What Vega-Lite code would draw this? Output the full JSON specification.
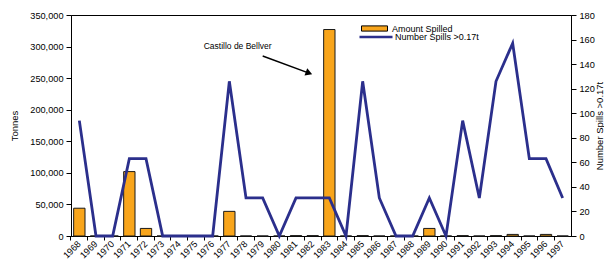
{
  "$schema": "https://vega.github.io/schema/vega-lite/v6.json",
  "width": 500,
  "height": 221,
  "padding": {"left": 9, "top": 11, "right": 0, "bottom": 0},
  "background": "white",
  "config": {
    "font": "Liberation Sans",
    "view": {"stroke": "#000", "strokeWidth": 1},
    "axis": {"labelFont": "Liberation Sans", "titleFont": "Liberation Sans", "labelFontSize": 9.2, "titleFontSize": 9.5, "titleFontWeight": "normal", "labelColor": "#000", "titleColor": "#000", "domainColor": "#000", "tickColor": "#000", "grid": false, "tickSize": 5, "labelPadding": 3},
    "legend": {"labelFont": "Liberation Sans", "labelFontSize": 9, "labelColor": "#000"}
  },
  "data": {
    "values": [
      {"year": "1968", "tonnes": 44000, "spills": 94},
      {"year": "1969", "tonnes": 0, "spills": 0},
      {"year": "1970", "tonnes": 0, "spills": 0},
      {"year": "1971", "tonnes": 102000, "spills": 63},
      {"year": "1972", "tonnes": 12000, "spills": 63},
      {"year": "1973", "tonnes": 0, "spills": 0},
      {"year": "1974", "tonnes": 0, "spills": 0},
      {"year": "1975", "tonnes": 0, "spills": 0},
      {"year": "1976", "tonnes": 0, "spills": 0},
      {"year": "1977", "tonnes": 39000, "spills": 126},
      {"year": "1978", "tonnes": 0, "spills": 31},
      {"year": "1979", "tonnes": 0, "spills": 31},
      {"year": "1980", "tonnes": 0, "spills": 0},
      {"year": "1981", "tonnes": 600, "spills": 31},
      {"year": "1982", "tonnes": 600, "spills": 31},
      {"year": "1983", "tonnes": 327000, "spills": 31},
      {"year": "1984", "tonnes": 0, "spills": 0},
      {"year": "1985", "tonnes": 600, "spills": 126},
      {"year": "1986", "tonnes": 0, "spills": 31},
      {"year": "1987", "tonnes": 0, "spills": 0},
      {"year": "1988", "tonnes": 0, "spills": 0},
      {"year": "1989", "tonnes": 12000, "spills": 31},
      {"year": "1990", "tonnes": 0, "spills": 0},
      {"year": "1991", "tonnes": 600, "spills": 94},
      {"year": "1992", "tonnes": 0, "spills": 31},
      {"year": "1993", "tonnes": 600, "spills": 126},
      {"year": "1994", "tonnes": 2500, "spills": 157},
      {"year": "1995", "tonnes": 0, "spills": 63},
      {"year": "1996", "tonnes": 2500, "spills": 63},
      {"year": "1997", "tonnes": 0, "spills": 31}
    ]
  },
  "layer": [
    {
      "mark": {"type": "bar", "width": {"band": 0.68}, "stroke": "#1a1a1a", "strokeWidth": 1},
      "encoding": {
        "x": {"field": "year", "type": "nominal", "sort": null, "scale": {"type": "band", "paddingInner": 0, "paddingOuter": 0},
              "axis": {"title": null, "bandPosition": 0, "labelAngle": -45, "labelAlign": "right", "labelBaseline": "middle", "tickSize": 4, "labelPadding": 2}},
        "y": {"field": "tonnes", "type": "quantitative", "scale": {"domain": [0, 350000], "nice": false},
              "axis": {"title": "Tonnes", "values": [0, 50000, 100000, 150000, 200000, 250000, 300000, 350000], "format": ",d", "titlePadding": 10}},
        "fill": {"datum": "Amount Spilled", "type": "nominal", "scale": {"range": ["#F8A51B"]},
                 "legend": {"title": null, "orient": "none", "legendX": 290, "legendY": 0, "symbolType": "M-1,-0.2H1V0.2H-1Z", "symbolSize": 676, "symbolStrokeColor": "#000", "symbolStrokeWidth": 1, "symbolFillColor": "#F8A51B", "labelOffset": 4, "padding": 0}}
      }
    },
    {
      "mark": {"type": "line", "strokeWidth": 2.8},
      "encoding": {
        "x": {"field": "year", "type": "nominal", "sort": null, "scale": {"type": "point", "padding": 0.5}, "axis": null},
        "y": {"field": "spills", "type": "quantitative", "scale": {"domain": [0, 180], "nice": false},
              "axis": {"orient": "right", "title": "Number Spills >0.17t", "titleAngle": 270, "values": [0, 20, 40, 60, 80, 100, 120, 140, 160, 180], "titlePadding": 10}},
        "stroke": {"datum": "Number Spills >0.17t", "type": "nominal", "scale": {"range": ["#2B2F8C"]},
                   "legend": {"title": null, "orient": "none", "legendX": 287, "legendY": 4, "symbolType": "stroke", "symbolSize": 1089, "symbolStrokeWidth": 2.5, "labelOffset": 1, "padding": 0}}
      }
    },
    {
      "data": {"values": [{"label": "Castillo de Bellver", "px": 10.0, "py": 301000, "x1": 11.5, "y1": 285000, "x2": 14.28, "y2": 258000}]},
      "layer": [
        {
          "mark": {"type": "text", "fontSize": 8.5, "color": "#000"},
          "encoding": {
            "x": {"field": "px", "type": "quantitative", "scale": {"domain": [0, 30], "nice": false}, "axis": null},
            "y": {"field": "py", "type": "quantitative", "scale": {"domain": [0, 350000], "nice": false}, "axis": null},
            "text": {"field": "label"}
          }
        },
        {
          "mark": {"type": "rule", "color": "#000", "strokeWidth": 1.5},
          "encoding": {
            "x": {"field": "x1", "type": "quantitative", "scale": {"domain": [0, 30], "nice": false}, "axis": null},
            "y": {"field": "y1", "type": "quantitative", "scale": {"domain": [0, 350000], "nice": false}, "axis": null},
            "x2": {"field": "x2"},
            "y2": {"field": "y2"}
          }
        },
        {
          "mark": {"type": "point", "shape": "triangle-right", "filled": true, "color": "#000", "size": 60, "angle": 21, "opacity": 1},
          "encoding": {
            "x": {"field": "x2", "type": "quantitative", "scale": {"domain": [0, 30], "nice": false}, "axis": null},
            "y": {"field": "y2", "type": "quantitative", "scale": {"domain": [0, 350000], "nice": false}, "axis": null}
          }
        }
      ]
    }
  ],
  "resolve": {"scale": {"x": "independent", "y": "independent", "fill": "independent", "stroke": "independent"}}
}
